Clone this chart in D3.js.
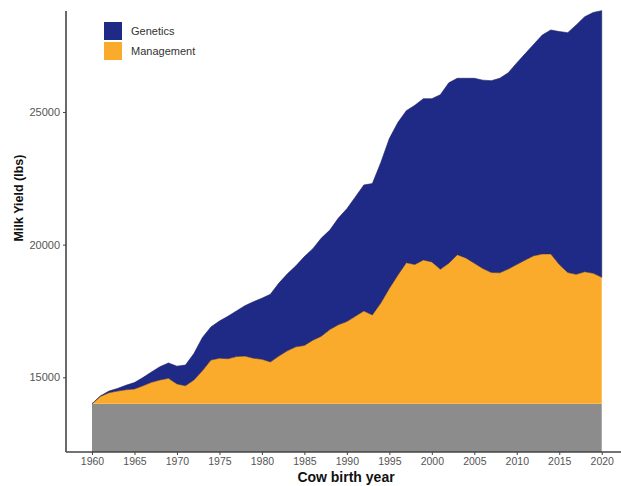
<!DOCTYPE html>
<html>
<head>
<meta charset="utf-8">
<script src="https://cdn.jsdelivr.net/npm/d3@7"></script>
<style>
  body { margin:0; background:#fff; }
  svg text { font-family: "Liberation Sans", Arial, sans-serif; }
</style>
</head>
<body>
<div id="plot"></div>
<script>
// data (lbs per cow, by birth year)
var years = d3.range(1960, 2021);
var managementYield = [14000,14280,14420,14480,14530,14560,14680,14810,14900,14960,
  14750,14680,14900,15250,15650,15720,15700,15780,15800,15720,
  15680,15580,15800,16000,16150,16200,16400,16550,16800,16980,
  17100,17300,17500,17350,17800,18350,18850,19320,19250,19420,
  19350,19070,19300,19620,19500,19300,19100,18950,18940,19080,
  19250,19420,19580,19650,19650,19250,18950,18880,18980,18920,18770];
var totalYield = [14000,14300,14480,14580,14700,14800,14990,15200,15400,15540,
  15420,15460,15900,16500,16900,17120,17300,17500,17700,17850,
  17980,18130,18550,18900,19200,19550,19850,20250,20550,21000,
  21350,21800,22250,22300,23100,24000,24600,25050,25250,25500,
  25500,25650,26100,26270,26270,26270,26200,26180,26270,26480,
  26850,27200,27550,27900,28090,28030,27990,28280,28590,28750,28820];
var baseYield = 14000;
var legendLabels = ['Genetics', 'Management'];
var xTicks = [1960,1965,1970,1975,1980,1985,1990,1995,2000,2005,2010,2015,2020];
var yTicks = [15000, 20000, 25000];

var W = 621, H = 486;
var margin = {t:11, r:1, b:34, l:66};

var svg = d3.select('#plot')
  .append('svg')
  .attr('width', W)
  .attr('height', H);

var x = d3.scaleLinear().domain([1956.94, 2022.15]).range([margin.l, W - margin.r]);
var y = d3.scaleLinear().domain([12185, 28806]).range([H - margin.b, margin.t]);

var rows = years.map(function(yr, i) {
  return {year: yr, man: managementYield[i], tot: totalYield[i]};
});

svg.append('clipPath').attr('id', 'clip')
  .append('rect')
  .attr('x', margin.l).attr('y', margin.t - 2)
  .attr('width', W - margin.l - margin.r)
  .attr('height', H - margin.b - margin.t + 2);

var plot = svg.append('g').attr('clip-path', 'url(#clip)');

// grey base block
plot.append('rect')
  .attr('x', x(1960))
  .attr('y', y(baseYield))
  .attr('width', x(2020) - x(1960))
  .attr('height', y.range()[0] - y(baseYield))
  .style('fill', '#8c8c8c');

// genetics (blue) on top of management
var blueArea = d3.area()
  .x(function(d){ return x(d.year); })
  .y0(function(d){ return y(d.man); })
  .y1(function(d){ return y(d.tot); });

plot.append('path')
  .datum(rows)
  .attr('d', blueArea)
  .style('fill', '#1f2a87')
  .style('stroke', '#1a1f5e')
  .style('stroke-width', 0.6);

// management (orange)
var orangeArea = d3.area()
  .x(function(d){ return x(d.year); })
  .y0(y(baseYield))
  .y1(function(d){ return y(d.man); });

plot.append('path')
  .datum(rows)
  .attr('d', orangeArea)
  .style('fill', '#fbab2b')
  .style('stroke', 'none');

plot.append('path')
  .datum(rows)
  .attr('d', d3.line().x(function(d){ return x(d.year); }).y(function(d){ return y(d.man); }))
  .style('fill', 'none')
  .style('stroke', '#3a3150')
  .style('stroke-width', 0.6);

// axes
var xAxis = svg.append('g')
  .attr('transform', 'translate(0,' + (H - margin.b) + ')')
  .call(d3.axisBottom(x).tickValues(xTicks).tickSize(3).tickPadding(3).tickFormat(d3.format('d')));

var yAxis = svg.append('g')
  .attr('transform', 'translate(' + margin.l + ',0)')
  .call(d3.axisLeft(y).tickValues(yTicks).tickSize(3).tickPadding(3).tickFormat(d3.format('d')));

[xAxis, yAxis].forEach(function(a) {
  a.select('.domain').style('stroke', '#444').style('stroke-width', 1.6);
  a.selectAll('.tick line').style('stroke', '#444');
  a.selectAll('.tick text').style('fill', '#555').style('font-size', '11px');
});
xAxis.select('.domain').attr('d', 'M' + margin.l + ',0H' + W);
yAxis.select('.domain').attr('d', 'M0,' + margin.t + 'V' + (H - margin.b));
xAxis.selectAll('.tick text').style('font-size', '10.5px');

// axis titles
svg.append('text')
  .attr('x', 346)
  .attr('y', 482)
  .attr('text-anchor', 'middle')
  .style('font-size', '14px')
  .style('font-weight', 'bold')
  .style('fill', '#111')
  .text('Cow birth year');

svg.append('text')
  .attr('transform', 'translate(23,198) rotate(-90)')
  .attr('text-anchor', 'middle')
  .style('font-size', '12.5px')
  .style('font-weight', 'bold')
  .style('fill', '#111')
  .text('Milk Yield (lbs)');

// legend
var legColors = ['#1f2a87', '#fbab2b'];
var legend = svg.append('g').attr('transform', 'translate(104,22)');
legendLabels.forEach(function(lab, i) {
  legend.append('rect')
    .attr('x', 0)
    .attr('y', i * 20)
    .attr('width', 18)
    .attr('height', 18)
    .style('fill', legColors[i]);
  legend.append('text')
    .attr('x', 27)
    .attr('y', i * 20 + 9)
    .attr('dy', '0.35em')
    .style('font-size', '11px')
    .style('fill', '#333')
    .text(lab);
});
</script>
</body>
</html>
